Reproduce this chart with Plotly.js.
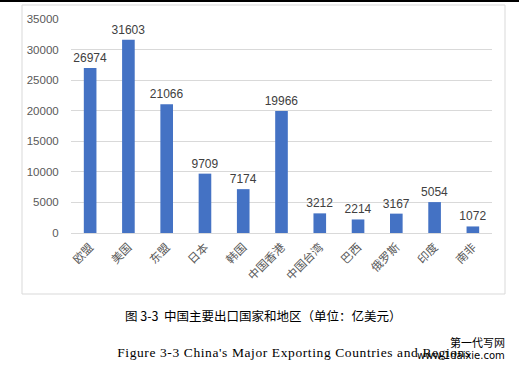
<!DOCTYPE html>
<html>
<head>
<meta charset="utf-8">
<script src="https://cdn.plot.ly/plotly-3.0.1.min.js"></script>
<style>
html,body{margin:0;padding:0;background:#fff;}
#chart{width:519px;height:372px;}
.encap text{letter-spacing:0.6px;}
</style>
</head>
<body>
<div id="chart"></div>
<script>
const categories = ["欧盟","美国","东盟","日本","韩国","中国香港","中国台湾","巴西","俄罗斯","印度","南非"];
const values = [26974, 31603, 21066, 9709, 7174, 19966, 3212, 2214, 3167, 5054, 1072];
const yTicks = [0, 5000, 10000, 15000, 20000, 25000, 30000, 35000];
const captionCn = "图 3-3  中国主要出口国家和地区（单位：亿美元）";
const captionEn = "Figure 3-3 China's Major Exporting Countries and Regions";
const watermark1 = "第一代写网";
const watermark2 = "www.1daixie.com";

const L = 71, R = 492, T = 19, B = 233, W = 519, H = 372;
const px = x => (x - L) / (R - L);
const py = y => (B - y) / (B - T);

const trace = {
  type: "bar",
  x: categories,
  y: values,
  marker: {color: "#4472C4"},
  text: values.map(String),
  textposition: "outside",
  constraintext: "none",
  cliponaxis: false,
  textfont: {family: "Liberation Sans, Arial, sans-serif", size: 12, color: "#404040"},
  hoverinfo: "none"
};

const layout = {
  width: W, height: H,
  margin: {l: L, r: W - R, t: T, b: H - B, pad: 0},
  paper_bgcolor: "#ffffff",
  plot_bgcolor: "#ffffff",
  showlegend: false,
  bargap: 0.67,
  font: {family: "Noto Sans CJK SC, sans-serif", color: "#595959"},
  xaxis: {
    type: "category",
    tickangle: -45,
    tickfont: {family: "Noto Sans CJK SC, sans-serif", size: 11.5, color: "#595959"},
    showline: false, ticks: "outside", ticklen: 2, tickcolor: "rgba(0,0,0,0)", showgrid: false, zeroline: false
  },
  yaxis: {
    range: [0, 35000],
    tickvals: yTicks,
    ticktext: yTicks.map(String),
    tickfont: {family: "Liberation Sans, Arial, sans-serif", size: 11.5, color: "#595959"},
    showgrid: true, gridcolor: "#d9d9d9", gridwidth: 1,
    zeroline: true, zerolinecolor: "#d9d9d9", zerolinewidth: 1,
    showline: false, ticks: "outside", ticklen: 9, tickcolor: "rgba(0,0,0,0)"
  },
  shapes: [
    {type: "rect", xref: "paper", yref: "paper", x0: px(22), x1: px(505), y0: py(294), y1: py(5),
     line: {color: "#d9d9d9", width: 1}, fillcolor: "rgba(0,0,0,0)", layer: "below"},
    {type: "line", xref: "paper", yref: "paper", x0: px(0), x1: px(519), y0: py(1), y1: py(1),
     line: {color: "#000000", width: 2}}
  ],
  annotations: [
    {xref: "paper", yref: "paper", x: px(263), y: py(315), text: captionCn, showarrow: false,
     xanchor: "center", yanchor: "middle", font: {family: "Noto Sans CJK SC, sans-serif", size: 12.5, color: "#000000"}},
    {xref: "paper", yref: "paper", x: px(294), y: py(352), text: captionEn, showarrow: false,
     xanchor: "center", yanchor: "middle", font: {family: "Liberation Serif, serif", size: 13.5, color: "#000000"}},
    {xref: "paper", yref: "paper", x: px(507), y: py(342), text: watermark1, showarrow: false,
     xanchor: "right", yanchor: "middle", font: {family: "Noto Sans CJK SC, sans-serif", size: 11, color: "#000000"}},
    {xref: "paper", yref: "paper", x: px(507), y: py(355), text: watermark2, showarrow: false,
     xanchor: "right", yanchor: "middle", font: {family: "DejaVu Sans, sans-serif", size: 10, color: "#000000"}}
  ]
};

Plotly.newPlot("chart", [trace], layout, {staticPlot: true, displayModeBar: false}).then(() => {
  const anns = document.querySelectorAll("#chart .annotation");
  if (anns[1]) anns[1].classList.add("encap");
});
</script>
</body>
</html>
